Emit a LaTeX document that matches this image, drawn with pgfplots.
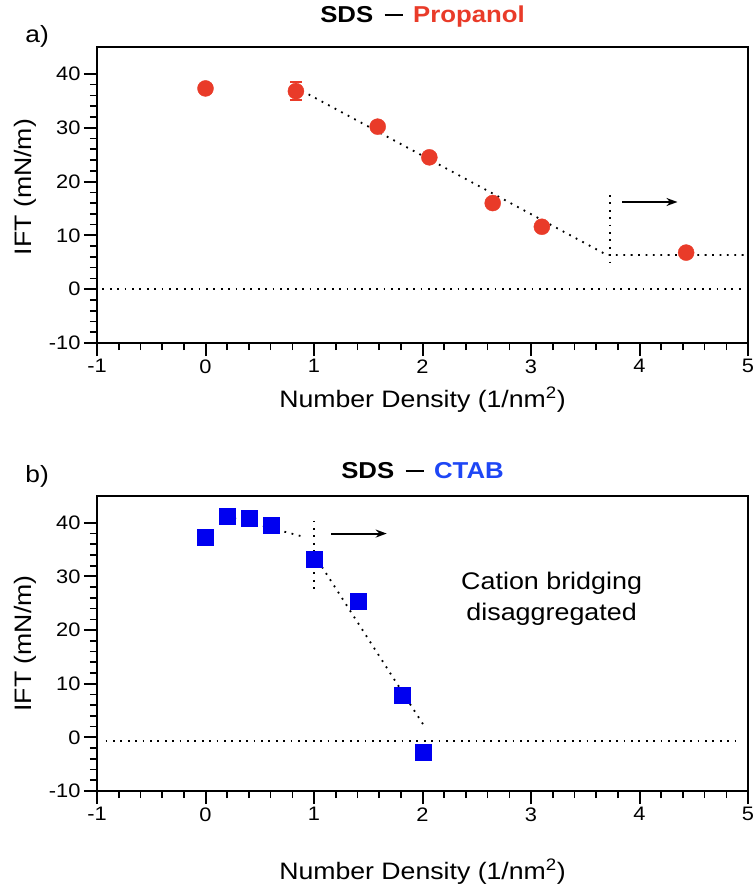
\documentclass[border=0pt]{standalone}
\usepackage{fontspec}
\setmainfont{Liberation Sans}[FakeStretch=1.12]
\usepackage{pgfplots}
\pgfplotsset{compat=1.18}
\usetikzlibrary{arrows.meta}
\definecolor{pred}{RGB}{233,59,41}
\definecolor{pblue}{RGB}{0,0,240}
\definecolor{ctab}{RGB}{30,70,245}

\pgfplotstableread{
x y e
0 37.3 0.9
0.833 36.8 1.7
1.587 30.2 0
2.063 24.5 0
2.647 16.0 0
3.10 11.6 0
4.43 6.8 0
}\propanol

\pgfplotstableread{
x y
0 37.3
0.20 41.2
0.40 40.9
0.61 39.6
1.00 33.2
1.41 25.3
1.81 7.8
2.01 -2.7
}\ctab

\newcommand{\tdash}{\hspace{0.5em}\rule[6.2pt]{18pt}{2.2pt}\hspace{0.45em}}

\pgfplotsset{
 common/.style={
  scale only axis, width=651pt,
  xmin=-1,xmax=5,ymin=-10,ymax=45,
  xtick={-1,0,...,5}, ytick={-10,0,...,40},
  minor x tick num=4, minor y tick num=4,
  tick align=outside, tick pos=left,
  major tick length=13pt, minor tick length=7pt,
  major tick style={line width=2pt,black},
  minor tick style={line width=1.6pt,black},
  axis line style={line width=2.5pt},
  /pgf/number format/assume math mode=true,
  ticklabel style={font=\fontsize{19.5}{20}\selectfont},
  label style={font=\fontsize{23.8}{25}\selectfont},
  title style={font=\fontsize{23}{24}\selectfont\bfseries, anchor=base},
  clip=false,
  xlabel={Number Density (1/nm\textsuperscript{2})},
  ylabel={IFT (mN/m)},
 },
 fit/.style={black, line width=1.8pt, dash pattern=on 1.8pt off 5.6pt},
}

\begin{document}
\begin{tikzpicture}
\useasboundingbox (0,0) rectangle (753pt,-886pt);

% ---------- panel a ----------
\begin{axis}[common, height=296pt, at={(97pt,-343pt)}, anchor=south west,
  title={SDS\tdash\textcolor{pred}{Propanol}},
  title style={at={(axis description cs:0.5,1.063)}},
  xlabel style={at={(axis description cs:0.5,-0.1926)}, anchor=center},
  ylabel style={at={(axis description cs:-0.1106,0.527)}, anchor=center},
]
\addplot[only marks, mark=*, mark size=8pt, color=pred, mark options={fill=pred, draw=pred},
  error bars/.cd, y dir=both, y explicit,
  error bar style={line width=2pt, pred},
  error mark options={rotate=90, mark size=6pt, line width=2pt, pred}]
  table[x=x, y=y, y error=e] {\propanol};
\addplot[fit] coordinates {(-0.95,0) (4.95,0)};
\addplot[fit] coordinates {(0.83,37.5) (3.70,6.35) (4.98,6.35)};
\addplot[fit] coordinates {(3.73,17.5) (3.73,3.9)};
\addplot[black, line width=2pt, -{Stealth[length=11pt,width=8pt]}] coordinates {(3.84,16.2) (4.35,16.2)};
\node[font=\fontsize{23.5}{25}\selectfont] at (axis description cs:-0.092,1.037) {a)};
\end{axis}

% ---------- panel b ----------
\begin{axis}[common, height=295pt, at={(97pt,-791pt)}, anchor=south west,
  title={SDS\tdash\textcolor{ctab}{CTAB}},
  title style={at={(axis description cs:0.5,1.04)}},
  xlabel style={at={(axis description cs:0.5,-0.2746)}, anchor=center},
  ylabel style={at={(axis description cs:-0.1106,0.5)}, anchor=center},
]
\addplot[only marks, mark=square*, mark size=8pt, color=pblue, mark options={fill=pblue, draw=pblue}]
  table[x=x, y=y] {\ctab};
\addplot[fit] coordinates {(-0.92,-0.7) (4.93,-0.7)};
\addplot[fit] coordinates {(0.20,41.2) (0.885,37.5)};
\addplot[fit] coordinates {(1.0,40.4) (1.0,27.0)};
\addplot[fit] coordinates {(1.0,34.1) (2.01,2.3)};
\addplot[black, line width=2pt, -{Stealth[length=11pt,width=8pt]}] coordinates {(1.16,38.0) (1.67,38.0)};
\node[font=\fontsize{24}{31}\selectfont, align=center] at (axis cs:3.19,25.8) {Cation bridging\\disaggregated};
\node[font=\fontsize{23.5}{25}\selectfont] at (axis description cs:-0.092,1.068) {b)};
\end{axis}
\end{tikzpicture}
\end{document}
